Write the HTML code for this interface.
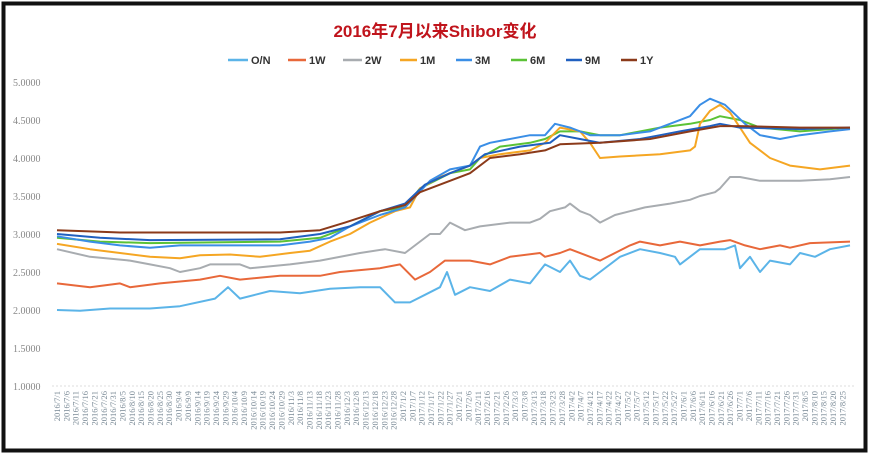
<!DOCTYPE html>
<html><head><meta charset="utf-8"><style>
html,body{margin:0;padding:0;background:#fff;}
svg{display:block;}
</style></head><body>
<svg id="c" width="870" height="458" xmlns="http://www.w3.org/2000/svg" font-family="Liberation Sans, Noto Sans CJK SC, sans-serif">
<rect x="0" y="0" width="870" height="458" fill="#fff"/>
<rect x="3.5" y="3.5" width="862" height="447" fill="none" stroke="#111" stroke-width="4"/>
<text x="435" y="37" text-anchor="middle" font-size="17" font-weight="bold" fill="#c0141c" font-family="Liberation Sans, Noto Sans CJK SC, sans-serif">2016年7月以来Shibor变化</text>
<g font-size="11" font-weight="bold" fill="#333" stroke-width="2.5">
<line x1="228" y1="60" x2="248" y2="60" stroke="#5bb4e8"/><text x="251" y="64">O/N</text>
<line x1="288" y1="60" x2="306" y2="60" stroke="#e8683a"/><text x="309" y="64">1W</text>
<line x1="343" y1="60" x2="362" y2="60" stroke="#a8acb0"/><text x="365" y="64">2W</text>
<line x1="400" y1="60" x2="417" y2="60" stroke="#f5a623"/><text x="420" y="64">1M</text>
<line x1="456" y1="60" x2="472" y2="60" stroke="#3a8ee6"/><text x="475" y="64">3M</text>
<line x1="511" y1="60" x2="527" y2="60" stroke="#5bc236"/><text x="530" y="64">6M</text>
<line x1="566" y1="60" x2="582" y2="60" stroke="#2060c0"/><text x="585" y="64">9M</text>
<line x1="621" y1="60" x2="637" y2="60" stroke="#8b3a1a"/><text x="640" y="64">1Y</text>
</g>
<g id="yax" font-size="10" fill="#888" font-family="Liberation Serif, serif"></g>
<line x1="52" y1="386" x2="855" y2="386" stroke="#ddd" stroke-dasharray="2,2"/>
<g id="series" fill="none" stroke-width="2" stroke-linejoin="round"></g>
<g id="xl" font-size="8.5" fill="#7a8a96" font-family="Liberation Serif, serif"></g>
</svg>
<script>
var NS="http://www.w3.org/2000/svg";
function Y(v){return 386-(v-1)*76;}
var ya=document.getElementById("yax");
for(var v=1;v<=5.001;v+=0.5){var t=document.createElementNS(NS,"text");t.setAttribute("x",13);t.setAttribute("y",Y(v)+4);t.textContent=v.toFixed(4);ya.appendChild(t);}
var S=[
["#5bc236",[57,2.95,100,2.9,150,2.88,280,2.9,320,2.95,350,3.1,380,3.3,405,3.35,420,3.6,450,3.8,470,3.85,480,4.0,500,4.15,530,4.2,545,4.25,560,4.35,580,4.35,600,4.3,620,4.3,660,4.4,690,4.45,710,4.5,720,4.55,740,4.5,760,4.4,800,4.35,850,4.4]],
["#f5a623",[57,2.87,90,2.8,120,2.75,150,2.7,180,2.68,200,2.72,230,2.73,260,2.7,290,2.75,310,2.78,330,2.9,350,3.0,370,3.15,395,3.3,410,3.35,420,3.6,440,3.75,460,3.85,470,3.9,480,4.0,500,4.05,530,4.1,545,4.2,560,4.4,580,4.35,590,4.2,600,4.0,620,4.02,660,4.05,690,4.1,695,4.15,700,4.45,710,4.62,720,4.7,730,4.6,750,4.2,770,4.0,790,3.9,820,3.85,850,3.9]],
["#3a8ee6",[57,2.97,90,2.9,120,2.85,150,2.82,180,2.85,280,2.85,310,2.9,330,2.95,350,3.1,380,3.25,405,3.35,430,3.7,450,3.85,470,3.9,480,4.15,490,4.2,530,4.3,545,4.3,555,4.45,570,4.4,590,4.3,620,4.3,650,4.35,670,4.45,690,4.55,700,4.7,710,4.78,725,4.7,745,4.45,760,4.3,780,4.25,800,4.3,830,4.35,850,4.38]],
["#2060c0",[57,3.0,100,2.95,150,2.92,280,2.93,320,3.0,350,3.1,380,3.3,405,3.4,425,3.65,450,3.8,470,3.9,485,4.05,520,4.15,550,4.2,560,4.3,580,4.25,600,4.2,640,4.25,660,4.3,680,4.35,710,4.42,720,4.45,740,4.4,800,4.38,850,4.4]],
["#8b3a1a",[57,3.05,100,3.03,120,3.02,280,3.02,320,3.05,345,3.15,380,3.3,405,3.38,420,3.55,450,3.7,470,3.8,490,4.0,520,4.05,545,4.1,560,4.18,600,4.2,650,4.25,690,4.35,720,4.42,740,4.42,800,4.4,850,4.4]],
["#a8acb0",[57,2.8,90,2.7,130,2.65,150,2.6,170,2.55,180,2.5,200,2.55,210,2.6,240,2.6,250,2.55,290,2.6,320,2.65,360,2.75,385,2.8,405,2.75,430,3.0,440,3.0,450,3.15,465,3.05,480,3.1,510,3.15,530,3.15,540,3.2,550,3.3,565,3.35,570,3.4,580,3.3,590,3.25,600,3.15,615,3.25,630,3.3,645,3.35,670,3.4,690,3.45,700,3.5,715,3.55,720,3.6,730,3.75,740,3.75,760,3.7,800,3.7,830,3.72,850,3.75]],
["#e8683a",[57,2.35,90,2.3,120,2.35,130,2.3,160,2.35,200,2.4,220,2.45,240,2.4,280,2.45,320,2.45,340,2.5,380,2.55,400,2.6,415,2.4,430,2.5,445,2.65,470,2.65,490,2.6,510,2.7,540,2.75,545,2.7,560,2.75,570,2.8,590,2.7,600,2.65,615,2.75,630,2.85,640,2.9,660,2.85,680,2.9,700,2.85,720,2.9,730,2.92,745,2.85,760,2.8,780,2.85,790,2.82,810,2.88,850,2.9]],
["#5bb4e8",[57,2.0,80,1.99,110,2.02,150,2.02,180,2.05,215,2.15,228,2.3,240,2.15,255,2.2,270,2.25,300,2.22,330,2.28,360,2.3,380,2.3,395,2.1,410,2.1,425,2.2,440,2.3,447,2.5,455,2.2,470,2.3,490,2.25,510,2.4,530,2.35,545,2.6,560,2.5,570,2.65,580,2.45,590,2.4,600,2.5,620,2.7,640,2.8,660,2.75,675,2.7,680,2.6,690,2.7,700,2.8,725,2.8,735,2.85,740,2.55,750,2.7,760,2.5,770,2.65,790,2.6,800,2.75,815,2.7,830,2.8,850,2.85]]
];
var g=document.getElementById("series");
S.forEach(function(s){var d=s[1],p=[];for(var i=0;i<d.length;i+=2)p.push(d[i]+","+Y(d[i+1]).toFixed(1));var l=document.createElementNS(NS,"polyline");l.setAttribute("points",p.join(" "));l.setAttribute("stroke",s[0]);g.appendChild(l);});
var xl=document.getElementById("xl");
var d0=new Date(2016,6,1);
for(var i=0;i<85;i++){var dt=new Date(d0.getTime()+i*5*86400000);var s=dt.getFullYear()+"/"+(dt.getMonth()+1)+"/"+dt.getDate();var x=57+i*9.35;var t=document.createElementNS(NS,"text");t.setAttribute("transform","translate("+(x+3)+",391) rotate(-90)");t.setAttribute("text-anchor","end");t.textContent=s;xl.appendChild(t);}
</script>
</body></html>
